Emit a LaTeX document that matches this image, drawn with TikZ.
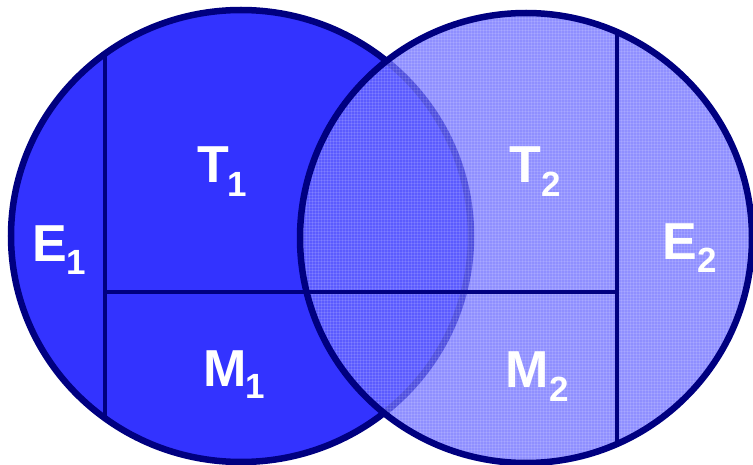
\documentclass[tikz,border=0pt]{standalone}
\usepackage{fontspec}
\setmainfont{Liberation Sans}
\usetikzlibrary{patterns}
\definecolor{leftblue}{RGB}{51,51,255}
\definecolor{rightblue}{RGB}{105,105,255}
\definecolor{navy}{RGB}{0,0,128}
\tikzset{
  outline/.style={draw=navy, line width=6.5pt},
  divider/.style={draw=navy, line width=4.5pt},
  bigl/.style={text=white, inner sep=0pt, anchor=base, font=\bfseries\fontsize{52}{60}\selectfont},
  subl/.style={text=white, inner sep=0pt, anchor=base, font=\bfseries\fontsize{35}{40}\selectfont},
}
\begin{document}
\begin{tikzpicture}[x=1pt,y=-1pt]
\useasboundingbox (0,0) rectangle (753,465);
% left circle
\fill[leftblue] (241,236) ellipse [x radius=230pt, y radius=226pt];
\begin{scope}
  \clip (241,236) ellipse [x radius=230pt, y radius=226pt];
  \coordinate (lt) at (105,0);
  \coordinate (lb) at (105,465);
  \draw[divider] (lt) -- (lb);
\end{scope}
\draw[outline] (241,236) ellipse [x radius=230pt, y radius=226pt];
% right circle
\fill[rightblue, opacity=0.75] (526,238) ellipse [x radius=226pt, y radius=225pt];
\fill[pattern=grid, pattern color=white, opacity=0.12] (526,238) ellipse [x radius=226pt, y radius=225pt];
\begin{scope}
  \clip (526,238) ellipse [x radius=226pt, y radius=225pt];
  \coordinate (rt) at (617,0);
  \coordinate (rb) at (617,465);
  \draw[divider] (rt) -- (rb);
\end{scope}
\coordinate (hl) at (105,292);
\coordinate (hr) at (617,292);
\draw[divider] (hl) -- (hr);
\draw[outline] (526,238) ellipse [x radius=226pt, y radius=225pt];
% labels
\node[bigl] (T1) at (213,183) {T};
\node[subl] (T1s) at (237.5,197) {1};
\node[bigl] (T2) at (525,183) {T};
\node[subl] (T2s) at (551,197) {2};
\node[bigl] (E1) at (50,262) {E};
\node[subl] (E1s) at (76.5,275) {1};
\node[bigl] (E2) at (680,260) {E};
\node[subl] (E2s) at (707,273) {2};
\node[bigl] (M1) at (225,386) {M};
\node[subl] (M1s) at (255,398) {1};
\node[bigl] (M2) at (527,387) {M};
\node[subl] (M2s) at (559,401) {2};
\end{tikzpicture}
\end{document}
